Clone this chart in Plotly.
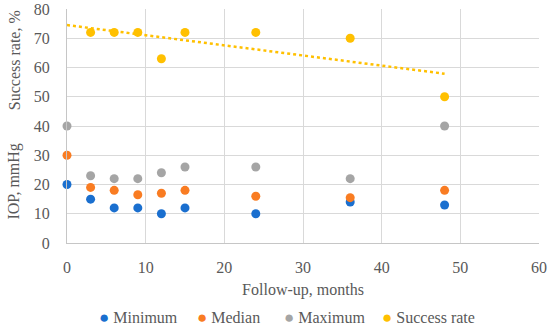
import numpy as np
import plotly.graph_objects as go

months = [0, 3, 6, 9, 12, 15, 24, 36, 48]
minimum = [20, 15, 12, 12, 10, 12, 10, 14, 13]
median = [30, 19, 18, 16.5, 17, 18, 16, 15.5, 18]
maximum = [40, 23, 22, 22, 24, 26, 26, 22, 40]
success_months = [3, 6, 9, 12, 15, 24, 36, 48]
success_rate = [72, 72, 72, 63, 72, 72, 70, 50]
series_names = ["Minimum", "Median", "Maximum", "Success rate"]
colors = ["#1a6fcf", "#f97c22", "#a5a5a5", "#ffc000"]

FONT = "Liberation Serif"
TXT = "#595959"
F = dict(family=FONT, size=16, color=TXT)

fig = go.Figure()
data = [(months, minimum), (months, median), (months, maximum), (success_months, success_rate)]
for name, (xs, ys), col in zip(series_names, data, colors):
    fig.add_trace(go.Scatter(x=xs, y=ys, mode="markers", name=name, cliponaxis=False,
                             marker=dict(color=col, size=9, line=dict(width=0))))

slope, intercept = np.polyfit(success_months, success_rate, 1)
tx = np.array([0, max(success_months)])
fig.add_trace(go.Scatter(x=tx, y=slope * tx + intercept, mode="lines",
                         line=dict(color="#ffc000", width=2.5, dash="dot"),
                         showlegend=False, hoverinfo="skip"))

W, H = 550, 327
L, R, T, B = 67, 11, 9, 84
plot_w = W - L - R
plot_h = H - T - B
fig.update_layout(
    width=W, height=H,
    margin=dict(l=L, r=R, t=T, b=B, autoexpand=False),
    paper_bgcolor="white", plot_bgcolor="white",
    font=F, showlegend=False,
    xaxis=dict(range=[0, 60], dtick=10, showgrid=True, gridcolor="#d9d9d9",
               zeroline=False, showline=True, linecolor="#c6c6c6", automargin=False,
               ticks="outside", ticklen=10, tickcolor="rgba(0,0,0,0)", tickfont=F,
               ticklabeloverflow="allow",
               title=dict(text="Follow-up, months", font=F, standoff=8)),
    yaxis=dict(range=[0, 80], dtick=10, showgrid=True, gridcolor="#d9d9d9",
               zeroline=False, showline=True, linecolor="#c6c6c6", automargin=False,
               ticks="outside", ticklen=13, tickcolor="rgba(0,0,0,0)", tickfont=F,
               ticklabeloverflow="allow"),
)
for txt, yv in [("Success rate, %", 62.5), ("IOP, mmHg", 21)]:
    fig.add_annotation(text=txt, textangle=-90, x=(14 - L) / plot_w, y=yv,
                       xref="paper", yref="y", xanchor="center", yanchor="middle",
                       showarrow=False, font=F)

# legend row below the axis title (left edges in window pixels)
legend_left_px = [97, 195, 282, 380]
legend_y_px = 317
for name, col, px in zip(series_names, colors, legend_left_px):
    fig.add_annotation(text=f"<span style='color:{col};font-size:17px'>●</span> {name}",
                       x=(px - L) / plot_w, y=(H - B - legend_y_px) / plot_h,
                       xref="paper", yref="paper", xanchor="left", yanchor="middle",
                       showarrow=False, font=F)

fig.write_html("out.html", config={"displayModeBar": False},
               post_script="document.body.style.margin='0';")
